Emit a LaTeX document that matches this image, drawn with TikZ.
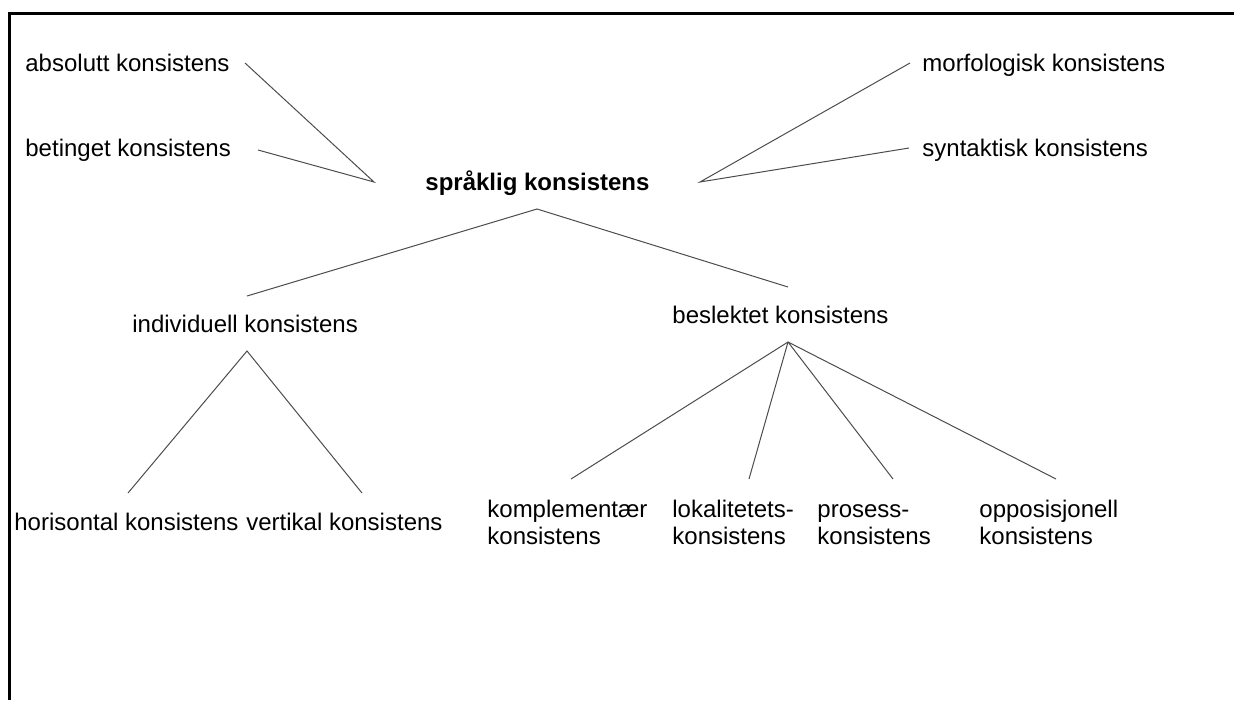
\documentclass[tikz,border=0pt]{standalone}
\usepackage{fontspec}
\setmainfont{Liberation Sans}
\begin{document}
\begin{tikzpicture}[x=0.5pt,y=-0.5pt,
	lbl/.style={inner sep=0pt,anchor=base west,align=left,font=\fontsize{12}{13.5}\selectfont},
	link/.style={black!70,line width=0.5pt}]
		\useasboundingbox (0,0) rectangle (1234,700);
		\draw [line width=1.5pt] (9,700) -- (9,14) -- (1234,14);
		% labels
		\foreach \n/\x/\y/\t in {abs/25/72/absolutt konsistens,
			bet/25/157/betinget konsistens,
			mor/922/72/morfologisk konsistens,
			syn/922/157/syntaktisk konsistens,
			ind/132/332/individuell konsistens,
			bes/672/323/beslektet konsistens,
			hor/14/530/horisontal konsistens,
			ver/246/530/vertikal konsistens,
			kom/487/544/komplementær\\konsistens,
			lok/672/544/lokalitetets-\\konsistens,
			pro/817/544/prosess-\\konsistens,
			opp/979/544/opposisjonell\\konsistens}
		\node [lbl] (\n) at (\x,\y) {\t};
		\node [lbl,font=\fontsize{12}{13.5}\selectfont\bfseries] (spr) at (425,191) {språklig konsistens};
		\path
		(374,182) coordinate (sprL)
		(700,182) coordinate (sprR)
		(537,209) coordinate (sprB)
		(245,63) coordinate (absE)
		(258,150) coordinate (betE)
		(910,63) coordinate (morE)
		(909,148) coordinate (synE)
		(247,296) coordinate (indT)
		(247,351) coordinate (indB)
		(788,287) coordinate (besT)
		(788,342) coordinate (besB)
		(128,493) coordinate (horE)
		(362,493) coordinate (verE)
		(571,479) coordinate (komE)
		(749,479) coordinate (lokE)
		(893,479) coordinate (proE)
		(1056,479) coordinate (oppE);
		\draw [link] (absE)--(sprL)--(betE)
		(morE)--(sprR)--(synE)
		(indT)--(sprB)--(besT)
		(horE)--(indB)--(verE);
		\foreach \p in {komE,lokE,proE,oppE}
		\draw [link] (besB)--(\p);
		
	\end{tikzpicture}
\end{document}
